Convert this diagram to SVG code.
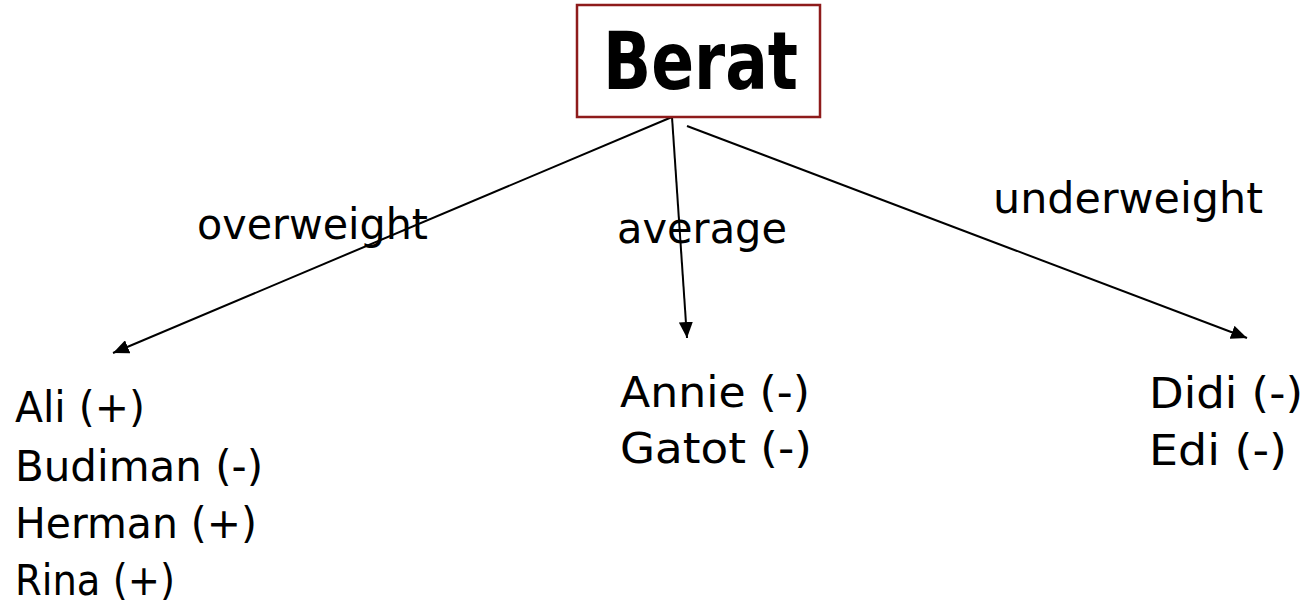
<svg xmlns="http://www.w3.org/2000/svg" width="1307" height="606" viewBox="0 0 1307 606">
  <style>
    .lbl { font-family: "Comic Sans MS", "DejaVu Sans", sans-serif; font-size: 42px; fill: #000; }
    .title { font-family: "Comic Sans MS", "DejaVu Sans", sans-serif; font-size: 80px; font-weight: bold; fill: #000; }
    .edge { stroke: #000; stroke-width: 2; fill: none; marker-end: url(#arrow); }
  </style>
  <defs>
    <marker id="arrow" markerUnits="userSpaceOnUse" markerWidth="16" markerHeight="14" refX="16" refY="7" orient="auto">
      <path d="M0,0 L16,7 L0,14 Z" fill="#000"/>
    </marker>
  </defs>
  <rect width="1307" height="606" fill="#fff"/>
  <g id="connectors">
    <line class="edge" x1="672" y1="117" x2="113" y2="353"/>
    <line class="edge" x1="672" y1="117" x2="687" y2="338"/>
    <line class="edge" x1="687" y1="126" x2="1247" y2="338"/>
  </g>
  <g id="edge-labels">
    <text class="lbl" x="197" y="239" textLength="231" lengthAdjust="spacingAndGlyphs">overweight</text>
    <text class="lbl" x="617" y="243" textLength="170" lengthAdjust="spacingAndGlyphs">average</text>
    <text class="lbl" x="993" y="213" textLength="270" lengthAdjust="spacingAndGlyphs">underweight</text>
  </g>
  <g id="node-berat">
    <rect x="577" y="5" width="243" height="112" fill="#fff" stroke="#8e1b1b" stroke-width="2.5"/>
    <text class="title" x="603" y="89" textLength="195" lengthAdjust="spacingAndGlyphs">Berat</text>
  </g>
  <g id="node-overweight">
    <text class="lbl" x="15" y="422" textLength="130" lengthAdjust="spacingAndGlyphs">Ali (+)</text>
    <text class="lbl" x="15" y="481" textLength="248" lengthAdjust="spacingAndGlyphs">Budiman (-)</text>
    <text class="lbl" x="15" y="538" textLength="242" lengthAdjust="spacingAndGlyphs">Herman (+)</text>
    <text class="lbl" x="15" y="595" textLength="160" lengthAdjust="spacingAndGlyphs">Rina (+)</text>
  </g>
  <g id="node-average">
    <text class="lbl" x="620" y="407" textLength="190" lengthAdjust="spacingAndGlyphs">Annie (-)</text>
    <text class="lbl" x="620" y="463" textLength="192" lengthAdjust="spacingAndGlyphs">Gatot (-)</text>
  </g>
  <g id="node-underweight">
    <text class="lbl" x="1149" y="408" textLength="154" lengthAdjust="spacingAndGlyphs">Didi (-)</text>
    <text class="lbl" x="1149" y="465" textLength="138" lengthAdjust="spacingAndGlyphs">Edi (-)</text>
  </g>
</svg>
